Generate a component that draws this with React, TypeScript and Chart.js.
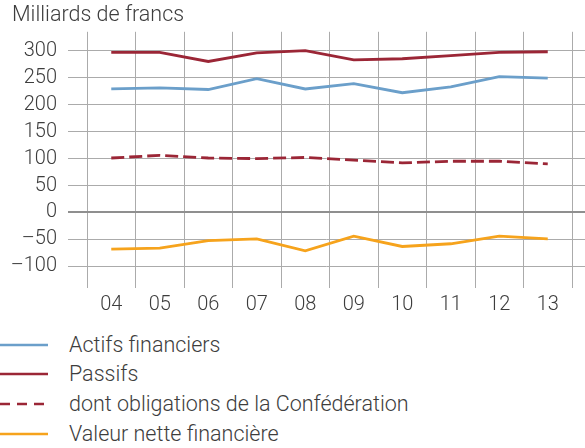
import React, { useEffect, useRef } from 'react';
import { Chart, registerables } from 'chart.js';

Chart.register(...registerables);

const unitLabel = 'Milliards de francs';
const years = ['04', '05', '06', '07', '08', '09', '10', '11', '12', '13'];
const actifs = [229, 231, 228, 248, 229, 239, 222, 233, 252, 249];
const passifs = [297, 297, 280, 296, 300, 283, 285, 291, 297, 298];
const obligations = [101, 106, 101, 100, 102, 97, 92, 95, 95, 90];
const nette = [-68, -66, -52, -49, -71, -44, -63, -58, -44, -49];
const yTicks = [-100, -50, 0, 50, 100, 150, 200, 250, 300];
const seriesNames = [
  'Actifs financiers',
  'Passifs',
  'dont obligations de la Confédération',
  'Valeur nette financière',
];
const seriesColors = ['#6b9fca', '#9b2636', '#9b2636', '#f6a31c'];
const seriesDash: number[][] = [[], [], [13, 5], []];
const seriesValues = [actifs, passifs, obligations, nette];

const FONT = 'Roboto, "Liberation Sans", Arial, sans-serif';
const GRID = '#ababab';
const TEXT = '#3d3d3d';

export default function App() {
  const ref = useRef<HTMLCanvasElement | null>(null);

  useEffect(() => {
    if (!ref.current) return;
    const xTickValues: number[] = [];
    for (let i = 0; i <= years.length; i++) {
      xTickValues.push(i - 0.5);
      if (i < years.length) xTickValues.push(i);
    }
    const chart = new Chart(ref.current, {
      type: 'line',
      data: {
        datasets: seriesValues.map((vals, k) => ({
          label: seriesNames[k],
          data: vals.map((v, i) => ({ x: i, y: v })),
          borderColor: seriesColors[k],
          backgroundColor: seriesColors[k],
          borderDash: seriesDash[k],
          borderWidth: 2.8,
          pointRadius: 0,
          tension: 0,
          fill: false,
        })),
      },
      options: {
        animation: false,
        responsive: false,
        layout: { padding: { left: 12, right: 0, top: 0, bottom: 0 } },
        plugins: {
          legend: { display: false },
          tooltip: { enabled: false },
          title: {
            display: true,
            text: unitLabel,
            align: 'start',
            color: TEXT,
            font: { family: FONT, size: 21.5, weight: '300' as any, lineHeight: 1.2 },
            padding: { top: 3, bottom: 3 },
          },
        },
        scales: {
          x: {
            type: 'linear',
            min: -0.892,
            max: 9.768,
            afterBuildTicks: (s: any) => {
              s.ticks = xTickValues.map((v) => ({ value: v }));
            },
            afterFit: (s: any) => {
              s.height = 32;
            },
            border: { display: false },
            grid: {
              drawTicks: false,
              color: (c: any) =>
                c.tick && Number.isInteger(c.tick.value) ? 'rgba(0,0,0,0)' : GRID,
              lineWidth: 1,
            },
            ticks: {
              autoSkip: false,
              maxRotation: 0,
              padding: 5,
              color: TEXT,
              font: { family: FONT, size: 20, weight: '300' as any },
              callback: (v: any) => (Number.isInteger(v) ? years[v] : ''),
            },
          },
          y: {
            type: 'linear',
            min: -140,
            max: 335,
            afterBuildTicks: (s: any) => {
              s.ticks = yTicks.map((v) => ({ value: v }));
            },
            afterFit: (s: any) => {
              s.width = 56;
            },
            border: { display: false },
            grid: {
              drawTicks: false,
              color: (c: any) => (c.tick && c.tick.value === 0 ? '#8f8f8f' : GRID),
              lineWidth: (c: any) => (c.tick && c.tick.value === 0 ? 2 : 1),
            },
            ticks: {
              padding: 11,
              color: TEXT,
              font: { family: FONT, size: 20, weight: '300' as any },
              callback: (v: any) => (v < 0 ? '\u2013' + Math.abs(v) : String(v)),
            },
          },
        },
      },
    });
    return () => chart.destroy();
  }, []);

  const rowCenters = [345, 374, 404, 434];

  return (
    <div
      style={{
        position: 'fixed',
        left: 0,
        top: 0,
        width: 585,
        height: 448,
        background: '#fff',
        overflow: 'hidden',
        fontFamily: FONT,
      }}
    >
      <canvas ref={ref} width={585} height={320} style={{ display: 'block' }} />
      {seriesNames.map((name, k) => (
        <div
          key={name}
          style={{
            position: 'absolute',
            left: 0,
            top: rowCenters[k] - 14,
            height: 28,
            display: 'flex',
            alignItems: 'center',
            whiteSpace: 'nowrap',
          }}
        >
          <svg width={48} height={28} style={{ display: 'block' }}>
            <line
              x1={0}
              y1={14}
              x2={48}
              y2={14}
              stroke={seriesColors[k]}
              strokeWidth={2.6}
              strokeDasharray={seriesDash[k].length ? '10 7' : undefined}
            />
          </svg>
          <span
            style={{
              marginLeft: 21,
              fontSize: 21.5,
              lineHeight: '28px',
              fontWeight: 300,
              color: TEXT,
            }}
          >
            {name}
          </span>
        </div>
      ))}
    </div>
  );
}
